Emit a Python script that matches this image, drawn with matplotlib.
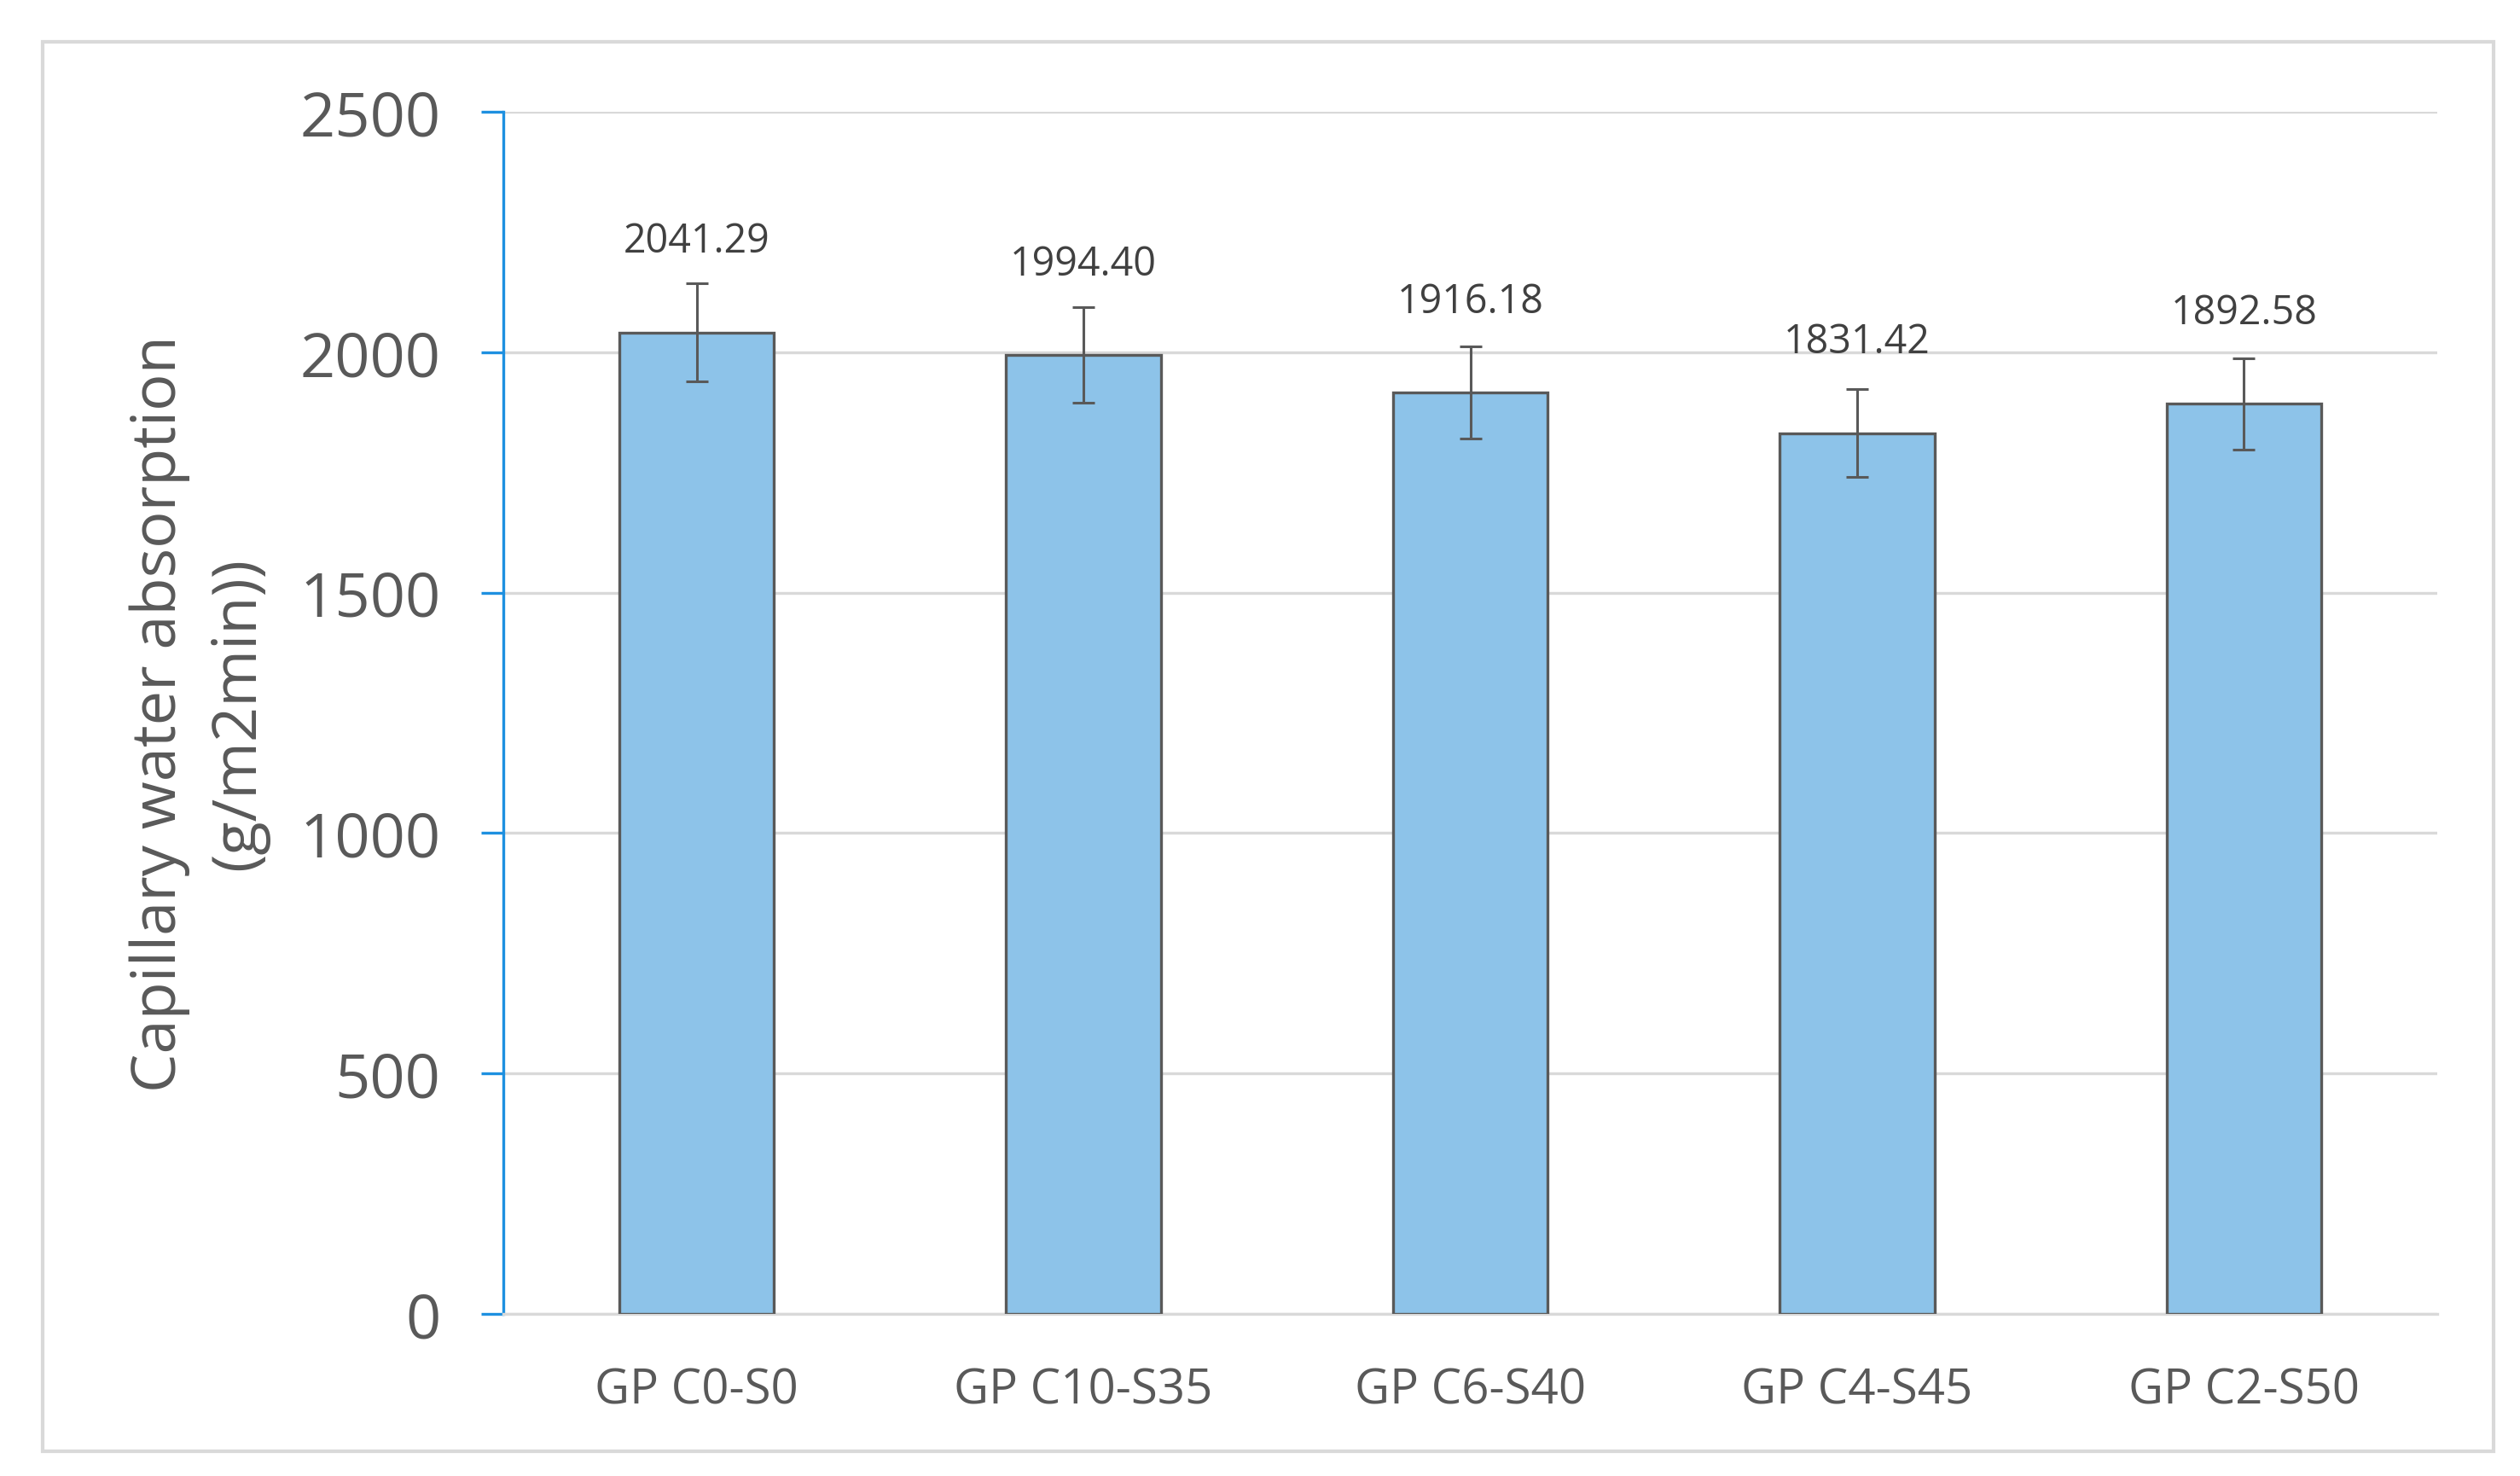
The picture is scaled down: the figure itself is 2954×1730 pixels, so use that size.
import matplotlib
matplotlib.use("Agg")
import matplotlib.pyplot as plt
from matplotlib.patches import Rectangle

categories = ["GP C0-S0", "GP C10-S35", "GP C6-S40", "GP C4-S45", "GP C2-S50"]
values = [2041.29, 1994.40, 1916.18, 1831.42, 1892.58]
errors = [102.06, 99.72, 95.81, 91.57, 94.63]
value_labels = ["2041.29", "1994.40", "1916.18", "1831.42", "1892.58"]
yticks = [0, 500, 1000, 1500, 2000, 2500]

W, H, DPI = 2954, 1731, 200
plt.rcParams['font.family'] = ['Open Sans', 'DejaVu Sans']
fig = plt.figure(figsize=(W / DPI, H / DPI), dpi=DPI)
fig.patch.set_facecolor("white")

# outer frame
fig.patches.append(Rectangle((50 / W, 1 - 1702 / H), (2923 - 50) / W, (1702 - 50) / H,
                             transform=fig.transFigure, fill=False,
                             edgecolor="#D9D9D9", linewidth=1.5))

ax = fig.add_axes([590 / W, 1 - 1541 / H, (2857 - 590) / W, (1541 - 132) / H])
x = list(range(len(categories)))
ax.bar(x, values, width=0.4, color="#8DC3E9", edgecolor="#595959", linewidth=1.2, zorder=3)
ax.errorbar(x, values, yerr=errors, fmt="none", ecolor="#595959", elinewidth=1.1,
            capsize=4.7, capthick=1.1, zorder=4)

for xi, v, lab in zip(x, values, value_labels):
    ax.annotate(lab, (xi, v), xytext=(0, 30), textcoords="offset points",
                ha="center", va="bottom", fontsize=16.8, color="#404040")

ax.set_xlim(-0.5, 4.5)
ax.set_ylim(0, 2500)
ax.set_yticks(yticks)
ax.set_yticklabels([str(t) for t in yticks])
ax.set_xticks(x)
ax.set_xticklabels(categories)
ax.grid(axis="y", color="#D9D9D9", linewidth=1.2, zorder=0)
ax.set_axisbelow(True)

for s in ["top", "right"]:
    ax.spines[s].set_visible(False)
ax.spines["bottom"].set_color("#D9D9D9")
ax.spines["bottom"].set_linewidth(1.2)
ax.spines["left"].set_color("#1E90E0")
ax.spines["left"].set_linewidth(1.2)

ax.tick_params(axis="y", direction="out", length=9.5, width=1.2, color="#1E90E0",
               labelsize=26, labelcolor="#595959", pad=17)
ax.tick_params(axis="x", length=0, labelsize=20.3, labelcolor="#595959", pad=22)

ax.set_ylabel("Capillary water absorption\n(g/m2min))", fontsize=26, color="#595959",
              labelpad=13, linespacing=1.375)

fig.savefig("out.png", dpi=DPI, facecolor="white")
